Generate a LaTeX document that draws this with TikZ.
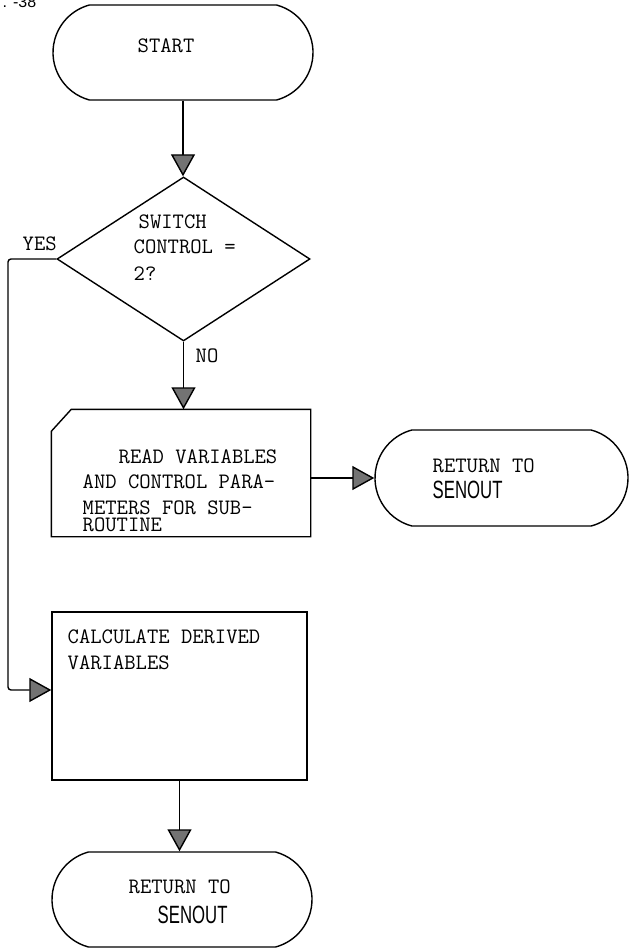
\documentclass[tikz,border=0pt]{standalone}
\usepackage{fontspec}
\usepackage{graphicx}
\newfontfamily\sansfont{Liberation Sans}
\usetikzlibrary{shapes.geometric,shapes.misc,arrows.meta}
\begin{document}
\begin{tikzpicture}[x=1pt,y=-1pt,
  line width=1.4pt,
  box/.style={draw, rectangle, inner sep=0pt},
  term/.style={draw, rounded rectangle, rounded rectangle arc length=150,
               inner sep=0pt, minimum height=95pt},
  flow/.style={-{Triangle[width=24pt,length=22pt,fill=black!55]}},
  tw/.style={inner sep=0pt, anchor=base west,
             font=\fontsize{22}{26}\selectfont\ttfamily},
  sn/.style={inner sep=0pt, anchor=base west,
             font=\sansfont\fontsize{25}{25}\selectfont}
]
\useasboundingbox (0,0) rectangle (629,949);

% page number, partly cut off by the top edge
\node[inner sep=0pt, anchor=base west, font=\sansfont\fontsize{16}{16}\selectfont]
  (pageno) at (2,8) {. -38};

% start terminal
\node[term, minimum width=260pt] (start) at (183,52.5) {};
\node[tw] (tstart) at (137,53) {START};

% decision
\node[diamond, draw, minimum width=253pt, minimum height=164pt, inner sep=0pt]
  (dec) at (183.5,259) {};
\node[tw] (td1) at (138,229) {SWITCH};
\node[tw] (td2) at (133,254) {CONTROL =};
\node[tw] (td3) at (133,280) {2?};
\node[tw] (lyes) at (22,251) {YES};
\node[tw] (lno) at (195,362) {NO};

% input card with cut corner
\node[minimum width=258pt, minimum height=126pt, inner sep=0pt] (rd) at (181,473) {};
\draw ([yshift=-22pt]rd.north west) -- ([xshift=20pt]rd.north west)
  -- (rd.north east) -- (rd.south east) -- (rd.south west) -- cycle;
\node[tw] (tr1) at (118,463) {READ VARIABLES};
\node[tw] (tr2) at (82,488) {AND CONTROL PARA-};
\node[tw] (tr3) at (82,514) {METERS FOR SUB-};
\node[tw] (tr4) at (82,531) {ROUTINE};

% return terminal on the right
\node[term, minimum width=253pt, minimum height=96pt] (ret1) at (501.5,478) {};
\node[tw] (tq1) at (432,472) {RETURN TO};
\node[sn] (tq2) at (432,498) {\scalebox{0.67}[1]{SENOUT}};

% process box
\node[box, minimum width=255pt, minimum height=168pt] (calc) at (179.5,696) {};
\node[tw] (tc1) at (67,643) {CALCULATE DERIVED};
\node[tw] (tc2) at (67,669) {VARIABLES};

% final terminal
\node[term, minimum width=260pt] (ret2) at (182,899.5) {};
\node[tw] (te1) at (128,893) {RETURN TO};
\node[sn] (te2) at (157,923) {\scalebox{0.67}[1]{SENOUT}};

% connectors
\draw[flow] (start.south) -- (start.south |- dec.north);
\draw[flow] (dec.south) -- (dec.south |- rd.north);
\draw[flow] (rd.east |- ret1.west) -- (ret1.west);
\coordinate (ycorner) at (8,690);
\draw[flow, rounded corners=3pt] (dec.west) -| (ycorner) -- (ycorner -| calc.west);
\draw[flow] (calc.south) -- (calc.south |- ret2.north);
\end{tikzpicture}
\end{document}
